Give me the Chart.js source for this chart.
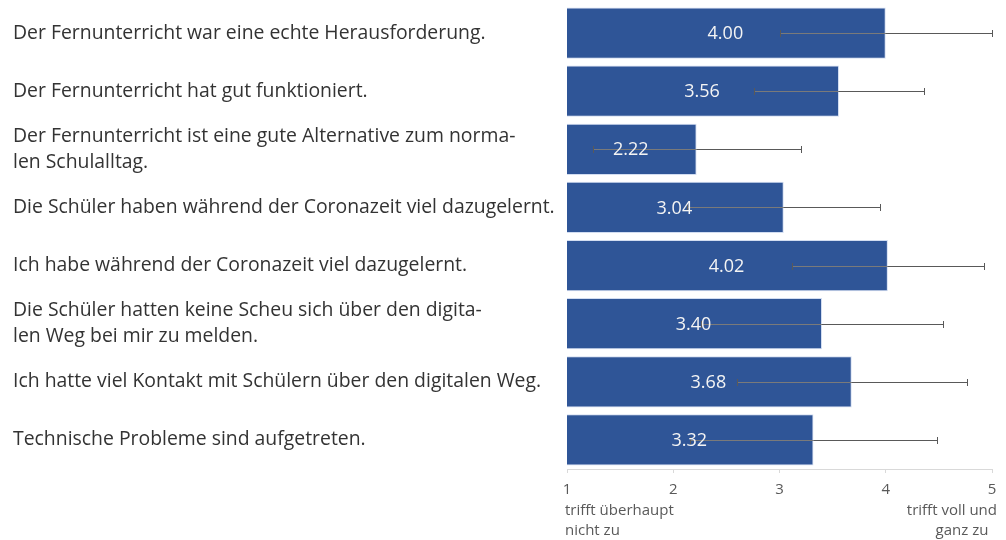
<!DOCTYPE html>
<html>
<head>
<meta charset="utf-8">
<script src="https://cdn.jsdelivr.net/npm/chart.js@4/dist/chart.umd.min.js"></script>
<style>
  html, body { margin: 0; padding: 0; background: #fff; }
  #wrap { width: 1006px; height: 540px; position: relative; }
</style>
</head>
<body>
<div id="wrap"><canvas id="mainChart"></canvas></div>
<script>
// --- Daten ---
const aussagen = [
    ['Der Fernunterricht war eine echte Herausforderung.'],
    ['Der Fernunterricht hat gut funktioniert.'],
    ['Der Fernunterricht ist eine gute Alternative zum norma-', 'len Schulalltag.'],
    ['Die Schüler haben während der Coronazeit viel dazugelernt.'],
    ['Ich habe während der Coronazeit viel dazugelernt.'],
    ['Die Schüler hatten keine Scheu sich über den digita-', 'len Weg bei mir zu melden.'],
    ['Ich hatte viel Kontakt mit Schülern über den digitalen Weg.'],
    ['Technische Probleme sind aufgetreten.']
];
const mittelwerte = [4.00, 3.56, 2.22, 3.04, 4.02, 3.40, 3.68, 3.32];
const abweichung = [1.00, 0.80, 0.98, 0.91, 0.90, 1.14, 1.08, 1.16];
const skalaTicks = [1, 2, 3, 4, 5];
const skalaMin = ['trifft überhaupt', 'nicht zu'];
const skalaMax = ['trifft voll und', 'ganz zu'];

const FONT = '"Open Sans", "Noto Sans", sans-serif';

document.addEventListener('DOMContentLoaded', function () {
    const ctx = document.getElementById('mainChart');

    // --- Fehlerbalken + Werte in den Balken ---
    const fehlerPlugin = {
        id: 'fehler',
        afterDatasetsDraw(chart) {
            const c = chart.ctx;
            const x = chart.scales.x;
            const meta = chart.getDatasetMeta(0);
            c.save();
            c.lineWidth = 1;
            meta.data.forEach(function (bar, i) {
                const y = Math.round(bar.y) + 0.5;
                const x1 = Math.round(x.getPixelForValue(mittelwerte[i] - abweichung[i])) + 0.5;
                const x2 = Math.round(x.getPixelForValue(mittelwerte[i] + abweichung[i])) + 0.5;
                const xr = Math.round(bar.x);
                // innerhalb des Balkens etwas heller, damit die Linie sichtbar bleibt
                c.strokeStyle = '#7a7a7a';
                c.beginPath();
                c.moveTo(x1, y); c.lineTo(Math.min(xr, x2), y);
                c.stroke();
                c.strokeStyle = '#595959';
                c.beginPath();
                if (x2 > xr) { c.moveTo(xr, y); c.lineTo(x2, y); }
                c.moveTo(x1, y - 3.5); c.lineTo(x1, y + 3.5);
                c.moveTo(x2, y - 3.5); c.lineTo(x2, y + 3.5);
                c.stroke();
            });
            c.fillStyle = '#f4f4f4';
            c.font = '18px ' + FONT;
            c.textAlign = 'center';
            c.textBaseline = 'middle';
            meta.data.forEach(function (bar, i) {
                const links = Math.max(bar.base, x.left);
                c.fillText(mittelwerte[i].toFixed(2), (bar.x + links) / 2 - 1, bar.y + 1);
            });
            // Skalenbeschriftung unter 1 und 5
            c.fillStyle = '#595959';
            c.font = '15px ' + FONT;
            const xa = x.getPixelForValue(1);
            const xb = x.getPixelForValue(5);
            c.textAlign = 'left';
            c.fillText(skalaMin[0], xa - 2, 511);
            c.fillText(skalaMin[1], xa - 2, 531);
            c.textAlign = 'right';
            c.fillText(skalaMax[0], xb + 5, 511);
            c.textAlign = 'center';
            c.fillText(skalaMax[1], xb - 30, 531);
            c.restore();
        }
    };

    new Chart(ctx, {
        type: 'bar',
        data: {
            labels: aussagen,
            datasets: [{
                data: mittelwerte,
                backgroundColor: '#2F5597',
                borderColor: 'rgba(180, 199, 231, 0.6)',
                borderWidth: 1,
                barPercentage: 0.88,
                categoryPercentage: 1.0
            }]
        },
        options: {
            indexAxis: 'y',
            responsive: true,
            maintainAspectRatio: false,
            animation: false,
            layout: {
                padding: { left: 13, right: 14, top: 4, bottom: 0 }
            },
            plugins: {
                legend: { display: false },
                tooltip: { enabled: false }
            },
            scales: {
                x: {
                    min: 1,
                    max: 5,
                    afterBuildTicks: function (scale) {
                        scale.ticks = skalaTicks.map(function (v) { return { value: v }; });
                    },
                    afterFit: function (scale) { scale.height = 71; },
                    border: { display: true, color: '#d9d9d9' },
                    grid: { display: true, drawOnChartArea: false, drawTicks: true, tickLength: 4, color: '#d9d9d9' },
                    ticks: {
                        color: '#595959',
                        font: { family: FONT, size: 15 },
                        padding: 8,
                        maxRotation: 0
                    }
                },
                y: {
                    afterFit: function (scale) {
                        scale.width = 554;
                        scale.paddingTop = 0;
                        scale.paddingBottom = 0;
                    },
                    border: { display: false },
                    grid: { display: false },
                    ticks: {
                        crossAlign: 'far',
                        color: '#333333',
                        font: { family: FONT, size: 19.4, lineHeight: 1.34 },
                        padding: 0
                    }
                }
            }
        },
        plugins: [fehlerPlugin]
    });
});
</script>
</body>
</html>
